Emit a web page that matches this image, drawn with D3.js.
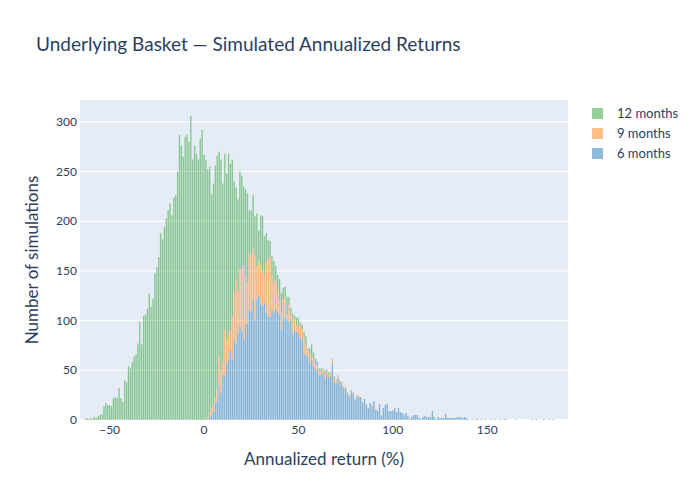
<!DOCTYPE html>
<meta charset="utf-8">
<title>Underlying Basket — Simulated Annualized Returns</title>
<script src="https://d3js.org/d3.v7.min.js"></script>
<style>
body { margin: 0; background: #fff; }
text { font-family: "Source Sans Pro", Lato, "Noto Sans", sans-serif; fill: #2a3f5f; }
</style>
<div id="chart"></div>
<script>
// histogram counts per 1-point bin, bin centre = start + index
const months12Start = -63;
const months12 = [
  1,2,1,2,1,3,2,4,5,6,
  14,17,15,15,14,22,23,22,32,22,
  18,40,38,54,52,58,64,66,77,99,
  76,105,106,112,127,114,122,148,154,164,
  188,182,194,203,211,218,206,224,226,250,
  287,276,265,285,287,280,306,262,276,268,
  262,283,292,267,262,249,247,215,221,234,
  234,206,212,179,177,167,180,168,158,111,
  93,91,98,94,79,88,89,43,45,53,
  39,53,30,50,54,39,28,18,16,20,
  22,14,15,22,20,12,10,18,8,7,
  4,4,7,9,2,5,7,9,2,5,
  13,6,5,4,3,3,1,3,2,2,
  1,1,2,1,1,0,1,1,0,1,0,1
];
const months9Start = 2;
const months9 = [
  2,5,7,9,5,13,30,23,14,46,
  24,28,20,44,49,64,44,58,63,75,
  48,42,57,57,52,65,34,35,39,36,
  28,52,59,60,34,30,30,22,14,17,
  20,22,5,17,5,16,11,7,7,14,
  10,15,10,6,10,3,8,6,5,4,
  3,4,5,3,3,3,4,4,3,2,
  2,2,1,2,1,2,1,1,1,1,
  1,0,1,0,1,0,0,1,0,1,
  0,0,1,0,0,1,0,0,1
];
const months6Start = 2;
const months6 = [
  1,3,5,8,17,19,34,27,45,45,
  57,60,70,60,80,77,87,94,89,81,
  96,97,111,109,121,101,121,125,117,115,
  118,108,104,104,111,108,111,109,106,91,
  101,102,101,99,101,87,90,89,87,82,
  81,67,65,64,57,60,54,51,50,45,
  46,47,42,46,43,44,56,38,37,42,
  38,35,31,31,26,23,28,27,20,24,
  23,23,17,21,15,12,17,14,19,10,
  9,16,4,12,15,16,9,9,9,12,
  8,12,8,7,5,7,4,1,3,5,
  5,5,2,1,3,4,3,3,3,9,
  3,1,3,2,2,2,6,2,2,2,
  2,2,3,3,3,2,3,2,1,0,
  1,0,1,1,0,1,0,1,0,0,
  1,0,1,0,0,1,0,1,1,0,
  0,0,0,1,0,0,0,0,0,0,
  0,0,1,0,1,0,0,0,1,0,
  0,1,0,1
];

const seriesNames = ["6 months", "9 months", "12 months"];
const seriesColors = ["#1f77b4", "#ff7f0e", "#2ca02c"];
const xTicks = [-50, 0, 50, 100, 150];
const yTicks = [0, 50, 100, 150, 200, 250, 300];

const W = 700, H = 500;
const plot = {left: 80, right: 568, top: 100, bottom: 420};

const svg = d3.select("#chart").append("svg")
    .attr("width", W).attr("height", H);

svg.append("rect")
    .attr("x", plot.left).attr("y", plot.top)
    .attr("width", plot.right - plot.left)
    .attr("height", plot.bottom - plot.top)
    .attr("fill", "#E5ECF6");

const x = d3.scaleLinear().domain([-65.7, 192.8]).range([plot.left, plot.right]);
const y = d3.scaleLinear().domain([0, 322]).range([plot.bottom, plot.top]);

// stack: 6 months at bottom, then 9, then 12
const raw = [
  {start: months6Start, counts: months6},
  {start: months9Start, counts: months9},
  {start: months12Start, counts: months12}
];
const lo = d3.min(raw, r => r.start);
const hi = d3.max(raw, r => r.start + r.counts.length - 1);
const bins = d3.range(lo, hi + 1);
const table = bins.map(v => {
  const row = {v: v};
  raw.forEach((r, i) => {
    const k = v - r.start;
    row[i] = (k >= 0 && k < r.counts.length) ? r.counts[k] : 0;
  });
  return row;
});
const stacked = d3.stack().keys([0, 1, 2])(table);

// grid
svg.append("g").selectAll("line")
  .data(yTicks)
  .join("line")
    .attr("x1", plot.left).attr("x2", plot.right)
    .attr("y1", d => y(d)).attr("y2", d => y(d))
    .attr("stroke", "#fff")
    .attr("stroke-width", d => d === 0 ? 2 : 1);

const pitch = x(1) - x(0);
const bw = pitch * 0.72;

svg.append("g").selectAll("g")
  .data(stacked)
  .join("g")
    .attr("fill", (d, i) => seriesColors[i])
    .attr("fill-opacity", 0.5)
  .selectAll("rect")
  .data(d => d.filter(s => s[1] > s[0]))
  .join("rect")
    .attr("x", s => x(s.data.v - 0.5) + (pitch - bw) / 2)
    .attr("width", bw)
    .attr("y", s => y(s[1]))
    .attr("height", s => y(s[0]) - y(s[1]));

// axes labels
svg.append("g").selectAll("text")
  .data(yTicks)
  .join("text")
    .attr("x", plot.left - 3)
    .attr("y", d => y(d) + 4)
    .attr("text-anchor", "end")
    .style("font-size", "12px")
    .text(d => d);

svg.append("g").selectAll("text")
  .data(xTicks)
  .join("text")
    .attr("x", d => x(d))
    .attr("y", 434)
    .attr("text-anchor", "middle")
    .style("font-size", "12px")
    .text(d => d < 0 ? "\u2212" + Math.abs(d) : d);

svg.append("text")
    .attr("x", (plot.left + plot.right) / 2)
    .attr("y", 465)
    .attr("text-anchor", "middle")
    .style("font-size", "17px")
    .text("Annualized return (%)");

svg.append("text")
    .attr("transform", `translate(38, ${(plot.top + plot.bottom) / 2}) rotate(-90)`)
    .attr("text-anchor", "middle")
    .style("font-size", "17px")
    .text("Number of simulations");

svg.append("text")
    .attr("x", 36)
    .attr("y", 51)
    .style("font-size", "19px")
    .text("Underlying Basket — Simulated Annualized Returns");

// legend, reversed like a stacked plotly chart
const legendItems = [2, 1, 0];
const legend = svg.append("g").selectAll("g")
  .data(legendItems)
  .join("g")
    .attr("transform", (d, i) => `translate(592, ${108 + i * 20})`);
legend.append("rect")
    .attr("width", 11).attr("height", 11)
    .attr("fill", d => seriesColors[d])
    .attr("fill-opacity", 0.5);
legend.append("text")
    .attr("x", 25).attr("y", 10)
    .style("font-size", "13px")
    .text(d => seriesNames[d]);
</script>
